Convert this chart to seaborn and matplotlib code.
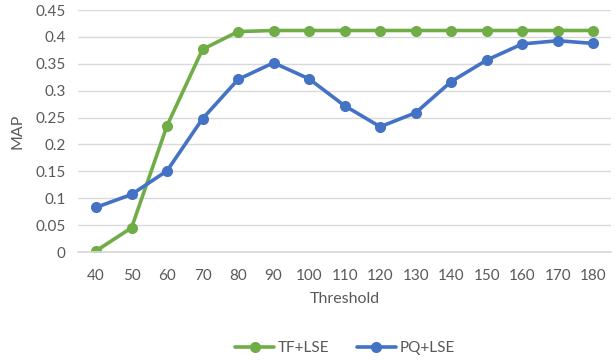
import matplotlib
matplotlib.use("Agg")
import matplotlib.pyplot as plt
import seaborn as sns
import pandas as pd

thresholds = [40, 50, 60, 70, 80, 90, 100, 110, 120, 130, 140, 150, 160, 170, 180]
tf_lse = [0.002, 0.045, 0.235, 0.377, 0.410, 0.412, 0.412, 0.412, 0.412, 0.412, 0.412, 0.412, 0.412, 0.412, 0.412]
pq_lse = [0.083, 0.107, 0.151, 0.248, 0.321, 0.352, 0.322, 0.272, 0.233, 0.259, 0.317, 0.357, 0.387, 0.393, 0.388]
series_names = ["TF+LSE", "PQ+LSE"]
y_ticks = [0, 0.05, 0.1, 0.15, 0.2, 0.25, 0.3, 0.35, 0.4, 0.45]
y_labels = ["0", "0.05", "0.1", "0.15", "0.2", "0.25", "0.3", "0.35", "0.4", "0.45"]

df = pd.DataFrame({
    "Threshold": thresholds * 2,
    "MAP": tf_lse + pq_lse,
    "Series": [series_names[0]] * len(thresholds) + [series_names[1]] * len(thresholds),
})

sns.set_theme(style="white")
plt.rcParams["font.family"] = ["Lato", "DejaVu Sans"]
grey = "#595959"

fig = plt.figure(figsize=(6.16, 3.6), dpi=100)
ax = fig.add_axes([0.127, 0.30, 0.865, 0.672])

palette = {"TF+LSE": "#70AD47", "PQ+LSE": "#4472C4"}
sns.lineplot(data=df, x="Threshold", y="MAP", hue="Series", palette=palette,
             marker="o", markersize=8, markeredgewidth=0, linewidth=2.6,
             ax=ax, legend=True)

ax.set_xlim(35, 185)
ax.set_ylim(0, 0.45)
ax.set_xticks(thresholds)
ax.set_xticklabels([str(t) for t in thresholds])
ax.set_yticks(y_ticks)
ax.set_yticklabels(y_labels)
ax.grid(axis="y", color="#D9D9D9", linewidth=1)
ax.set_axisbelow(True)
for s in ["top", "right", "left"]:
    ax.spines[s].set_visible(False)
ax.spines["bottom"].set_color("#D9D9D9")
ax.tick_params(axis="y", colors=grey, labelsize=11, length=0, pad=9)
ax.tick_params(axis="x", colors=grey, labelsize=11, length=0, pad=12)
ax.set_xlabel("Threshold", color=grey, fontsize=11.5, labelpad=7)
ax.set_ylabel("MAP", color=grey, fontsize=11.5, labelpad=8)

handles, labels = ax.get_legend_handles_labels()
ax.legend(handles, labels, loc="center", bbox_to_anchor=(0.5, -0.397), ncol=2,
          frameon=False, fontsize=11, labelcolor=grey, handlelength=2.6,
          columnspacing=1.8, handletextpad=0.2)

fig.savefig("out.png", dpi=100)
